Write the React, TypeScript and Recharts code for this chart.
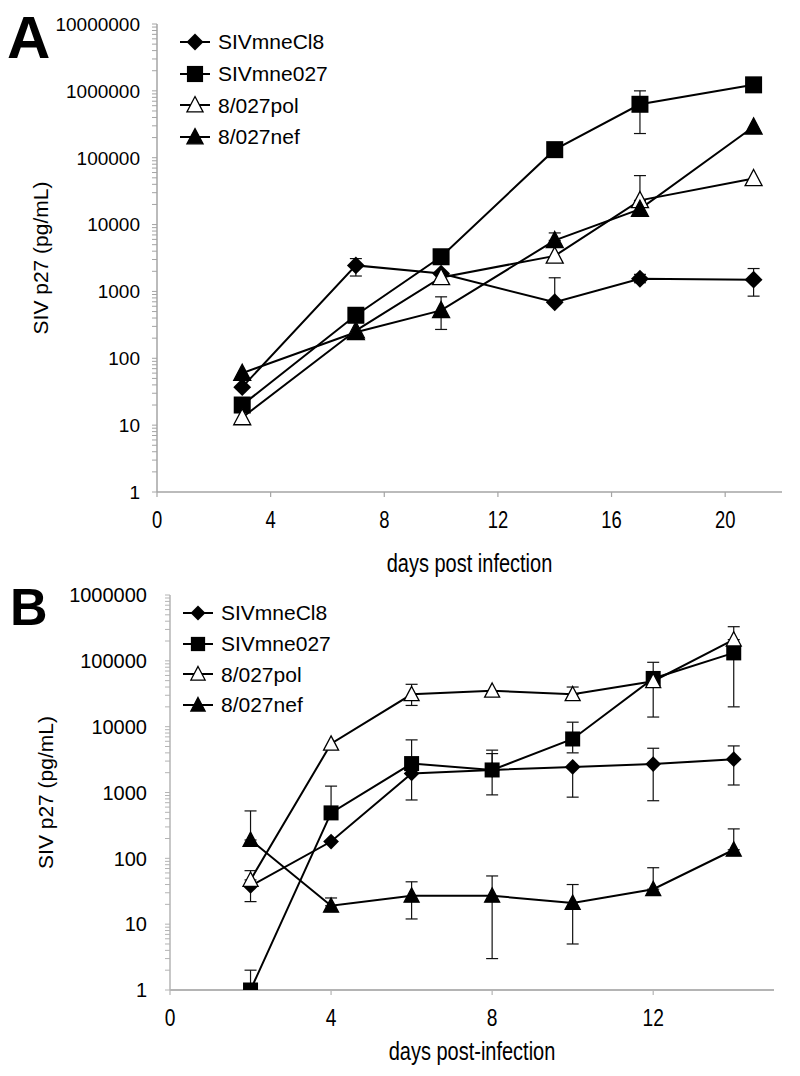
import React from "react";
import { LineChart, Line, XAxis, YAxis, ErrorBar, Legend, Label } from "recharts";

// ---- Panel A (days post infection) ----
const daysA = [3, 7, 10, 14, 17, 21];
const cl8A = [37, 2450, 1850, 690, 1550, 1500];
const mne027A = [20, 440, 3300, 132000, 630000, 1230000];
const polA = [13, 260, 1620, 3400, 23000, 49000];
const nefA = [60, 245, 520, 5800, 17000, 290000];

// error bars as [low, high] bounds, null = none drawn
const cl8ErrA = [null, [1700, 3100], null, [690, 1600], [1350, 1800], [850, 2200]];
const mne027ErrA = [null, null, null, null, [230000, 1000000], null];
const polErrA = [null, null, null, null, [23000, 54000], null];
const nefErrA = [null, null, [270, 830], [5800, 7500], null, null];

// ---- Panel B (days post-infection) ----
const daysB = [2, 4, 6, 8, 10, 12, 14];
const cl8B = [38, 180, 1950, 2200, 2450, 2700, 3200];
const mne027B = [1, 490, 2750, 2200, 6500, 54000, 132000];
const polB = [47, 5500, 31000, 35000, 31000, 49000, 210000];
const nefB = [190, 19, 27, 27, 21, 34, 135];

const cl8ErrB = [[22, 38], null, [770, 1950], [920, 3900], [850, 2450], [750, 4700], [1300, 5100]];
const mne027ErrB = [[1, 2], [490, 1250], [2750, 6300], [2200, 4400], [4000, 11700], [14000, 95000], [20000, 132000]];
const polErrB = [[47, 65], null, [21000, 44000], null, [31000, 40000], null, [210000, 330000]];
const nefErrB = [[190, 525], [19, 25], [12, 44], [3, 54], [5, 40], [34, 72], [135, 280]];

// axis ticks
const xTicksA = [0, 4, 8, 12, 16, 20];
const xTicksB = [0, 4, 8, 12];
const yMajorA = [1, 10, 100, 1000, 10000, 100000, 1000000, 10000000];
const yMajorB = [1, 10, 100, 1000, 10000, 100000, 1000000];

const SERIES = [
  { key: "cl8", name: "SIVmneCl8", kind: "diamond" },
  { key: "mne027", name: "SIVmne027", kind: "square" },
  { key: "pol", name: "8/027pol", kind: "open" },
  { key: "nef", name: "8/027nef", kind: "filled" },
];

const FONT = "'Liberation Sans', Arial, sans-serif";
const SQUEEZE = 0.8; // x-axis texts in the figure are horizontally condensed

const toDelta = (v: number, e: number[] | null) => (e ? [v - e[0], e[1] - v] : null);

const buildRows = (days: number[], s: number[][], errs: any[][]) =>
  days.map((d, i) => ({
    day: d,
    cl8: s[0][i],
    mne027: s[1][i],
    pol: s[2][i],
    nef: s[3][i],
    cl8Err: toDelta(s[0][i], errs[0][i]),
    mne027Err: toDelta(s[1][i], errs[1][i]),
    polErr: toDelta(s[2][i], errs[2][i]),
    nefErr: toDelta(s[3][i], errs[3][i]),
  }));

const dataA = buildRows(daysA, [cl8A, mne027A, polA, nefA], [cl8ErrA, mne027ErrA, polErrA, nefErrA]);
const dataB = buildRows(daysB, [cl8B, mne027B, polB, nefB], [cl8ErrB, mne027ErrB, polErrB, nefErrB]);

// log minor ticks (2..9 of every decade)
const withMinor = (majors: number[]) => {
  const out: number[] = [];
  majors.forEach((m, i) => {
    out.push(m);
    if (i < majors.length - 1) for (let k = 2; k <= 9; k++) out.push(m * k);
  });
  return out;
};

function Marker({ kind, cx, cy, r }: any) {
  if (cx == null || cy == null) return <g />;
  if (kind === "diamond") {
    const d = r * 1.05;
    return <polygon points={`${cx},${cy - d} ${cx + d},${cy} ${cx},${cy + d} ${cx - d},${cy}`} fill="#000" />;
  }
  if (kind === "square") {
    return <rect x={cx - r} y={cy - r} width={2 * r} height={2 * r} fill="#000" />;
  }
  const pts = `${cx},${cy - r * 1.05} ${cx + r},${cy + r * 0.85} ${cx - r},${cy + r * 0.85}`;
  return (
    <polygon
      points={pts}
      fill={kind === "open" ? "#fff" : "#000"}
      stroke="#000"
      strokeWidth={1.3}
      strokeLinejoin="miter"
    />
  );
}

const makeLegend = (r: number, rowH: number) => () => (
  <div style={{ fontFamily: FONT, fontSize: 21, color: "#000" }}>
    {SERIES.map((s) => (
      <div key={s.key} style={{ display: "flex", alignItems: "center", height: rowH }}>
        <svg width={40} height={24}>
          <line x1={5} x2={35} y1={12} y2={12} stroke="#000" strokeWidth={2} />
          <Marker kind={s.kind} cx={20} cy={12} r={r} />
        </svg>
        <span style={{ marginLeft: 3, lineHeight: 1 }}>{s.name}</span>
      </div>
    ))}
  </div>
);

const makeYTick = (majors: number[], fontSize: number) => (props: any) => {
  const { x, y, payload } = props;
  if (!majors.includes(payload.value)) return <g />;
  return (
    <text x={x} y={y} dy="0.36em" textAnchor="end" fontSize={fontSize} fontFamily={FONT} fill="#000">
      {String(payload.value)}
    </text>
  );
};

const makeXTick = (fontSize: number) => (props: any) => {
  const { x, y, payload } = props;
  return (
    <text
      transform={`translate(${x} ${y}) scale(${SQUEEZE} 1)`}
      dy="0.72em"
      textAnchor="middle"
      fontSize={fontSize}
      fontFamily={FONT}
      fill="#000"
    >
      {payload.value}
    </text>
  );
};

const xTitle = (text: string, below: number, fontSize: number) => (props: any) => {
  const vb = props.viewBox;
  return (
    <text
      transform={`translate(${vb.x + vb.width / 2} ${vb.y + below}) scale(${SQUEEZE} 1)`}
      textAnchor="middle"
      fontSize={fontSize}
      fontFamily={FONT}
      fill="#000"
    >
      {text}
    </text>
  );
};

const yTitle = (text: string, left: number, fontSize: number) => (props: any) => {
  const vb = props.viewBox;
  const cx = vb.x + vb.width - left;
  const cy = vb.y + vb.height / 2;
  return (
    <text
      x={cx}
      y={cy}
      transform={`rotate(-90 ${cx} ${cy})`}
      textAnchor="middle"
      dominantBaseline="central"
      fontSize={fontSize}
      fontFamily={FONT}
      fill="#000"
    >
      {text}
    </text>
  );
};

function Panel({ data, width, height, margin, xDomain, xTicks, yMajors, yFont, xFont, tickMargin, xLabel, xLabelBelow, yLabelLeft, r, legendPos, rowH, axisColor, xAxisWidth }: any) {
  return (
    <LineChart width={width} height={height} data={data} margin={margin}>
      <XAxis
        dataKey="day"
        type="number"
        domain={xDomain}
        ticks={xTicks}
        allowDataOverflow
        height={60}
        tickSize={5}
        tickMargin={14}
        interval={0}
        tickLine={{ stroke: axisColor, strokeWidth: 1.2 }}
        axisLine={{ stroke: axisColor, strokeWidth: xAxisWidth }}
        tick={makeXTick(xFont)}
      >
        <Label content={xTitle(xLabel, xLabelBelow, 25)} />
      </XAxis>
      <YAxis
        scale="log"
        type="number"
        domain={[yMajors[0], yMajors[yMajors.length - 1]]}
        ticks={withMinor(yMajors)}
        allowDataOverflow
        width={60}
        tickSize={5}
        tickMargin={tickMargin}
        interval={0}
        tickLine={{ stroke: axisColor, strokeWidth: 1 }}
        axisLine={{ stroke: axisColor, strokeWidth: 1.5 }}
        tick={makeYTick(yMajors, yFont)}
      >
        <Label content={yTitle("SIV p27 (pg/mL)", yLabelLeft, 21)} />
      </YAxis>
      <Legend
        layout="vertical"
        align="center"
        verticalAlign="middle"
        wrapperStyle={{ left: legendPos[0], top: legendPos[1], width: 220 }}
        content={makeLegend(r * 0.95, rowH)}
      />
      {SERIES.map((s) => (
        <Line
          key={s.key}
          dataKey={s.key}
          name={s.name}
          type="linear"
          stroke="#000"
          strokeWidth={2}
          isAnimationActive={false}
          dot={(p: any) => <Marker key={`${s.key}-${p.index}`} kind={s.kind} cx={p.cx} cy={p.cy} r={r} />}
          activeDot={false}
        >
          <ErrorBar dataKey={`${s.key}Err`} direction="y" width={6} stroke="#111" strokeWidth={1.2} />
        </Line>
      ))}
    </LineChart>
  );
}

export default function App() {
  return (
    <div style={{ position: "absolute", left: 0, top: 0, width: 800, height: 1076, background: "#fff" }}>
      <div style={{ position: "absolute", left: 0, top: 0 }}>
        <Panel
          data={dataA}
          width={800}
          height={585}
          margin={{ top: 24, right: 18, bottom: 33, left: 97 }}
          xDomain={[0, 22]}
          xTicks={xTicksA}
          yMajors={yMajorA}
          yFont={19}
          xFont={23}
          tickMargin={12}
          xLabel="days post infection"
          xLabelBelow={80}
          yLabelLeft={117}
          r={8.5}
          legendPos={[175, 26]}
          rowH={31.7}
          axisColor="#a4a4a4"
          xAxisWidth={1.5}
        />
      </div>
      <div style={{ position: "absolute", left: 0, top: 585 }}>
        <Panel
          data={dataB}
          width={800}
          height={491}
          margin={{ top: 10, right: 26, bottom: 26, left: 110 }}
          xDomain={[0, 15]}
          xTicks={xTicksB}
          yMajors={yMajorB}
          yFont={20}
          xFont={24}
          tickMargin={18}
          xLabel="days post-infection"
          xLabelBelow={70}
          yLabelLeft={125}
          r={7.5}
          legendPos={[178, 12.5]}
          rowH={30.7}
          axisColor="#b4b4b4"
          xAxisWidth={2}
        />
      </div>
      <svg width={800} height={1076} style={{ position: "absolute", left: 0, top: 0, pointerEvents: "none" }}>
        <text x={7} y={58} fontSize={60} fontWeight="bold" fontFamily={FONT} fill="#000">A</text>
        <text x={10} y={625} fontSize={52} fontWeight="bold" fontFamily={FONT} fill="#000">B</text>
      </svg>
    </div>
  );
}
